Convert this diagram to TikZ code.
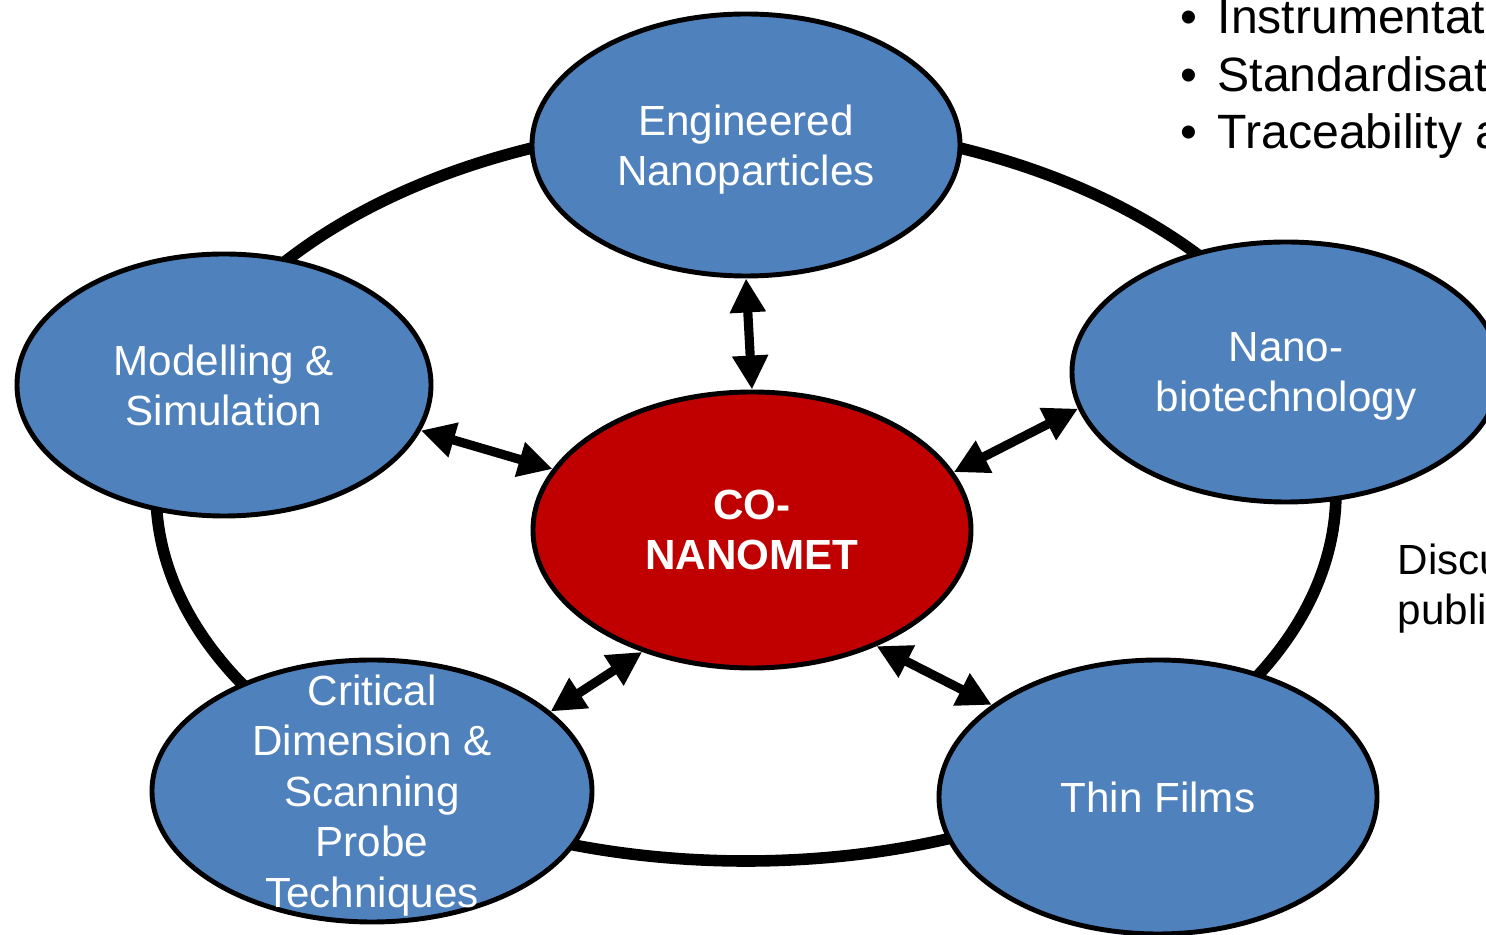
\documentclass[tikz,border=0pt]{standalone}
\usepackage{fontspec}
\setmainfont{Liberation Sans}
\usetikzlibrary{shapes.geometric, arrows.meta}
\definecolor{topicblue}{HTML}{4F81BD}
\definecolor{hubred}{HTML}{C00000}
\tikzset{topic/.style={ellipse,draw,line width=1.4pt,fill=topicblue,text=white,inner sep=0pt,align=center,text depth=0pt,font=\fontsize{12}{14.2}\selectfont},
         hub/.style={topic,fill=hubred,font=\fontsize{12}{14.2}\selectfont\bfseries},
         link/.style={{Triangle[length=3.4mm,width=3.4mm]}-{Triangle[length=3.4mm,width=3.4mm]},line width=2.6pt},
         ring/.style={draw,line width=3.3pt},
         note/.style={anchor=base west,inner sep=0pt,font=\fontsize{12}{14.4}\selectfont},
         task/.style={note,font=\fontsize{13.7}{16}\selectfont},
        }

\begin{document}
\begin{tikzpicture}
        \useasboundingbox(0,0)rectangle(14.86,9.35);
        \clip(0,0)rectangle(14.86,9.35);

        \coordinate(ctr)at(7.46,4.43);
        \draw[ring](ctr)ellipse[x radius=5.90, y radius=3.69];

        \node[topic, minimum width=4.28cm, minimum height=2.62cm](eng)at(7.46,7.90){Engineered\\Nanoparticles};
        \node[topic, minimum width=4.28cm, minimum height=2.60cm](bio)at(12.86,5.63){Nano-\\biotechnology};
        \node[topic, minimum width=4.14cm, minimum height=2.62cm](mod)at(2.24,5.50){Modelling \&\\Simulation};
        \node[hub, minimum width=4.38cm, minimum height=2.76cm](conano)at(7.52,4.05){CO-\\NANOMET};
        \node[topic, minimum width=4.40cm, minimum height=2.62cm,
              label={[text=white, align=center, text depth=0pt, font=\fontsize{12}{14.4}\selectfont]center:Critical\\Dimension \&\\Scanning\\Probe\\Techniques}](crit)at(3.72,1.44){};
        \node[topic, minimum width=4.38cm, minimum height=2.74cm](thin)at(11.58,1.38){Thin Films};

        \draw[link](eng.270)--(conano.90);
        \draw[link](mod.-13)--(conano.163);
        \draw[link](bio.190)--(conano.16);
        \draw[link](crit.24)--(conano.228);
        \draw[link](thin.151)--(conano.-43);

        \node[task](t1)at(11.80,9.01){\makebox[0.37cm][l]{\textbullet}Instrumentati};
        \node[task](t2)at(11.80,8.43){\makebox[0.37cm][l]{\textbullet}Standardisat};
        \node[task](t3)at(11.80,7.86){\makebox[0.37cm][l]{\textbullet}Traceability a};

        \node[note](n1)at(13.97,3.60){Discu};
        \node[note](n2)at(13.97,3.10){publi};
    \end{tikzpicture}
\end{document}
